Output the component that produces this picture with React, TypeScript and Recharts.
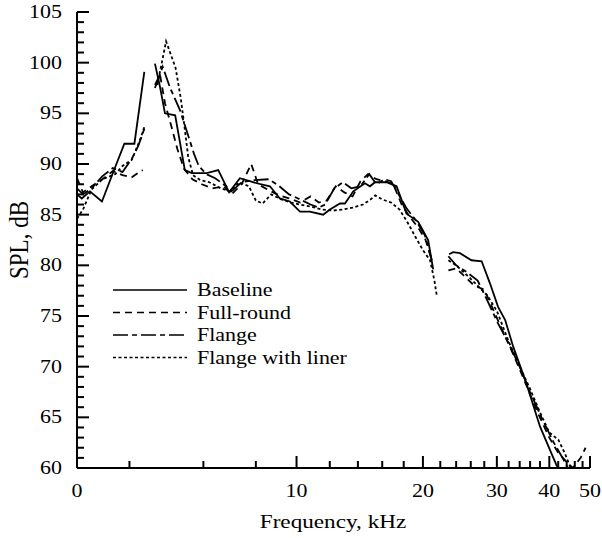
import { LineChart, Line, XAxis, YAxis, Label } from 'recharts'

// frequency in kHz, SPL in dB; null = break in the trace
const baselineFreq = [3.0, 3.08, 3.22, 3.44, 3.7, 3.89, 4.11, 4.34, 4.47, 4.6, 4.73, 4.86, 5.14, 5.42, 5.63, 6.11, 6.51, 6.91, 7.33, 8.04, 8.64, 9.13, 9.64, 10.19, 10.76, 11.57, 12.01, 12.69, 13.04, 13.65, 14.55, 14.96, 15.37, 16.39, 17.31, 18.28, 19.49, 20.58, 21.16, 22.0, 23.09, 23.6, 24.5, 26.1, 27.6, 28.9, 30.2, 31.4, 32.8, 35.3, 38.0, 40.8, 42.4]
const baselineSpl = [87.0, 86.6, 87.3, 86.3, 89.7, 92.0, 92.0, 99.1, null, 99.9, 97.6, 95.0, 94.8, 89.4, 89.1, 89.1, 89.4, 87.2, 88.6, 88.1, 87.8, 86.6, 86.3, 85.3, 85.3, 85.0, 85.5, 86.1, 86.1, 87.3, 88.1, 87.8, 88.2, 88.2, 87.8, 85.1, 84.3, 82.5, 79.6, null, 81.1, 81.3, 81.2, 80.5, 80.4, 78.2, 75.9, 74.6, 72.0, 68.3, 64.1, 61.1, 59.5]

const fullRoundFreq = [3.0, 3.1, 3.25, 3.45, 3.65, 3.85, 4.05, 4.3, 4.45, 4.6, 4.73, 4.86, 5.05, 5.2, 5.4, 5.65, 5.95, 6.3, 6.7, 7.0, 7.4, 7.8, 8.1, 8.6, 9.1, 9.6, 10.2, 10.8, 11.3, 11.8, 12.4, 13.0, 13.6, 14.2, 14.8, 15.5, 16.3, 17.0, 17.8, 18.6, 19.5, 20.3, 21.0, 22.0, 23.0, 24.0, 25.0, 26.5, 28.0, 29.5, 31.0, 33.0, 35.0, 37.5, 40.0, 42.0, 44.0, 45.5, 47.5, 48.8]
const fullRoundSpl = [88.6, 87.2, 87.8, 88.5, 89.3, 88.9, 88.7, 89.4, null, 97.8, 98.8, 96.0, 93.5, 91.5, 89.5, 88.5, 88.0, 87.6, 87.8, 87.0, 88.0, 90.0, 88.0, 87.4, 86.9, 86.6, 86.2, 86.8, 86.2, 86.4, 87.8, 87.2, 86.8, 88.3, 89.0, 88.5, 88.3, 88.0, 86.0, 84.8, 83.7, 82.5, 80.5, null, 79.5, 79.7, 79.0, 78.0, 77.6, 75.5, 73.5, 71.0, 68.5, 65.5, 63.0, 61.5, 60.6, 60.0, 61.0, 62.0]

const flangeFreq = [3.0, 3.1, 3.25, 3.45, 3.65, 3.85, 4.05, 4.2, 4.35, 4.45, 4.6, 4.8, 5.0, 5.28, 5.5, 5.7, 5.85, 6.1, 6.4, 6.8, 7.0, 7.4, 7.9, 8.6, 9.1, 9.6, 10.2, 10.8, 11.3, 11.7, 12.3, 12.9, 13.5, 14.2, 14.9, 15.5, 16.2, 16.8, 17.5, 18.3, 19.2, 20.2, 21.0, 22.0, 23.0, 24.0, 25.5, 27.0, 28.5, 30.0, 32.0, 34.0, 36.0, 38.5, 41.0, 43.0, 45.0]
const flangeSpl = [87.6, 87.0, 87.6, 88.8, 89.6, 89.2, 90.5, 91.8, 93.6, null, 97.5, 99.6, 97.5, 95.3, 93.0, 91.0, 89.8, 89.0, 88.6, 87.8, 87.3, 88.2, 88.4, 88.5, 87.8, 87.0, 86.5, 86.0, 85.7, 86.0, 87.6, 88.2, 87.6, 87.8, 89.0, 88.0, 88.5, 88.3, 87.0, 85.6, 84.5, 83.0, 80.5, null, 80.9, 80.0, 79.3, 78.5, 76.5, 74.5, 72.3, 70.0, 67.5, 64.8, 62.5, 61.0, 59.5]

const linerFreq = [3.0, 3.1, 3.25, 3.45, 3.7, 3.85, 4.05, 4.25, 4.35, 4.5, 4.66, 4.89, 5.15, 5.3, 5.42, 5.52, 5.67, 5.9, 6.2, 6.6, 6.95, 7.3, 7.7, 8.0, 8.3, 8.7, 9.2, 9.7, 10.2, 10.8, 11.5, 12.2, 12.9, 13.6, 14.4, 15.0, 15.4, 16.0, 16.8, 17.6, 18.4, 19.2, 20.0, 20.8, 21.3, 21.6, 22.5, 23.0, 24.0, 25.5, 27.0, 28.5, 30.0, 32.0, 34.0, 36.0, 38.0, 40.0, 42.0, 43.5, 45.0]
const linerSpl = [84.6, 85.5, 87.5, 88.5, 89.0, 89.8, 90.4, 92.5, 93.8, null, 97.8, 102.1, 99.5, 96.5, 93.4, 90.7, 88.9, 88.4, 88.2, 87.6, 87.3, 88.2, 87.8, 86.4, 86.1, 87.0, 86.5, 86.2, 86.0, 85.8, 85.5, 85.4, 85.5, 85.7, 86.0, 86.5, 86.9, 86.5, 86.2, 85.5, 84.2, 82.8, 81.5, 80.5, 78.5, 76.9, null, 80.5, 80.0, 79.0, 78.0, 77.0, 75.5, 72.5, 70.0, 67.8, 65.5, 63.5, 62.8, 61.5, 60.0]

const seriesNames = ['Baseline', 'Full-round', 'Flange', 'Flange with liner']
const seriesDash = ['', '7 5', '15 4 5 4', '3 2.5']

const xTicks = [3, 4, 6, 8, 10, 12, 14, 16, 18, 20, 22, 24, 26, 28, 30, 32, 34, 36, 38, 40, 42, 44, 46, 48, 50]
const xMajorTicks = [3, 10, 20, 30, 40, 50]
const xMajorLabels = ['0', '10', '20', '30', '40', '50']
const yTicks = Array.from({ length: 46 }, (_, i) => 60 + i)

const FONT = '"Liberation Serif", "Times New Roman", serif'
const STRETCH = 1.22

const zip = (f: number[], s: (number | null)[]) => f.map((v, i) => ({ f: v, spl: s[i] }))
const series = [
  zip(baselineFreq, baselineSpl),
  zip(fullRoundFreq, fullRoundSpl),
  zip(flangeFreq, flangeSpl),
  zip(linerFreq, linerSpl)
]

function XTick({ x, y, payload }: any) {
  const idx = xMajorTicks.indexOf(payload.value)
  const major = idx >= 0
  return (
    <g>
      <line x1={x} x2={x} y1={y} y2={y - (major ? 12 : 7)} stroke="#000" strokeWidth={2} />
      {major && (
        <text
          transform={`translate(${x},${y + 29}) scale(${STRETCH},1)`}
          textAnchor="middle"
          fontFamily={FONT}
          fontSize={18}
          fill="#000"
        >
          {xMajorLabels[idx]}
        </text>
      )}
    </g>
  )
}

function YTick({ x, y, payload }: any) {
  const major = payload.value % 5 === 0
  return (
    <g>
      <line x1={x} x2={x + (major ? 12 : 7)} y1={y} y2={y} stroke="#000" strokeWidth={2} />
      {major && (
        <text
          transform={`translate(${x - 15},${y + 6}) scale(${STRETCH},1)`}
          textAnchor="end"
          fontFamily={FONT}
          fontSize={18}
          fill="#000"
        >
          {payload.value}
        </text>
      )}
    </g>
  )
}

// legend drawn as an overlay so it does not shrink the plot area
function LegendBox() {
  return (
    <svg width={270} height={95} style={{ position: 'absolute', left: 105, top: 278 }}>
      {seriesNames.map((name, i) => {
        const cy = 12 + i * 22.5
        return (
          <g key={name}>
            <line x1={8} x2={82} y1={cy} y2={cy} stroke="#000" strokeWidth={1.4} strokeDasharray={seriesDash[i] || undefined} />
            <text
              transform={`translate(92,${cy + 6}) scale(${STRETCH},1)`}
              fontFamily={FONT}
              fontSize={18}
              fill="#000"
            >
              {name}
            </text>
          </g>
        )
      })}
    </svg>
  )
}

export default function App() {
  return (
    <div style={{ position: 'absolute', left: 0, top: 0, width: 602, height: 538, background: '#fff' }}>
      <LineChart width={602} height={538} margin={{ top: 12, right: 12, left: 0, bottom: 0 }}>
        <XAxis
          dataKey="f"
          type="number"
          scale="log"
          domain={[3, 50]}
          ticks={xTicks}
          interval={0}
          allowDataOverflow
          height={70}
          tickSize={0}
          tickMargin={0}
          tickLine={false}
          axisLine={{ stroke: '#000', strokeWidth: 2 }}
          tick={<XTick />}
        >
          <Label
            content={() => (
              <text
                transform={`translate(333,528) scale(${STRETCH},1)`}
                textAnchor="middle"
                fontFamily={FONT}
                fontSize={19}
                fill="#000"
              >
                Frequency, kHz
              </text>
            )}
          />
        </XAxis>
        <YAxis
          type="number"
          domain={[60, 105]}
          ticks={yTicks}
          interval={0}
          allowDataOverflow
          width={77}
          tickSize={0}
          tickMargin={0}
          tickLine={false}
          axisLine={{ stroke: '#000', strokeWidth: 2 }}
          tick={<YTick />}
        >
          <Label
            content={() => (
              <text
                transform={`translate(28,240) scale(${STRETCH},1) rotate(-90)`}
                textAnchor="middle"
                fontFamily={FONT}
                fontSize={23}
                fill="#000"
              >
                SPL, dB
              </text>
            )}
          />
        </YAxis>
        {series.map((d, i) => (
          <Line
            key={seriesNames[i]}
            data={d}
            dataKey="spl"
            name={seriesNames[i]}
            type="linear"
            stroke="#000"
            strokeWidth={1.8}
            strokeDasharray={seriesDash[i] || undefined}
            dot={false}
            activeDot={false}
            isAnimationActive={false}
          />
        ))}
      </LineChart>
      <LegendBox />
    </div>
  )
}
